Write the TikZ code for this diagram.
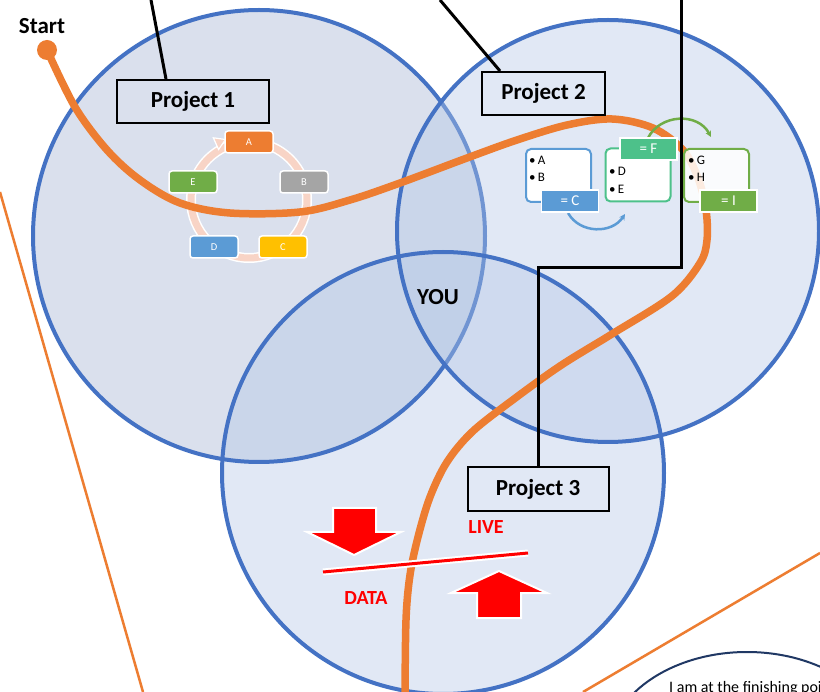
\documentclass[tikz,border=0pt]{standalone}
\usepackage{fontspec}
\setmainfont{Carlito}
\usetikzlibrary{arrows.meta,calc}
\definecolor{cblue}{HTML}{4472C4}
\definecolor{cfillA}{RGB}{218,224,237}
\definecolor{cfillB}{HTML}{B4C7E7}
\definecolor{corange}{HTML}{ED7D31}
\definecolor{cring}{RGB}{248,212,198}
\definecolor{cgray}{HTML}{A5A5A5}
\definecolor{cyellow}{HTML}{FFC000}
\definecolor{cmblue}{HTML}{5B9BD5}
\definecolor{cgreen}{HTML}{70AD47}
\definecolor{cteal}{HTML}{4DC18A}
\definecolor{cnavy}{HTML}{203864}
\definecolor{cred}{HTML}{FF0000}
\begin{document}
\begin{tikzpicture}[x=1pt,y=-1pt,
  vennline/.style={draw=cblue, line width=4pt},
  projbox/.style={draw=black, line width=2pt, inner sep=0pt, font=\bfseries\fontsize{23}{26}\selectfont},
  cyc/.style={rounded corners=3pt, draw=white, line width=1.5pt, minimum width=48pt, minimum height=22pt, text=white, inner sep=0pt, font=\fontsize{10.5}{11}\selectfont},
  itembox/.style={rounded corners=5pt, line width=2pt, fill=white, minimum width=65pt, minimum height=53pt, inner sep=0pt},
  tagbox/.style={draw=white, line width=1.5pt, text=white, minimum width=57pt, minimum height=22pt, inner sep=0pt, font=\fontsize{15}{16}\selectfont},
  itemtext/.style={anchor=west, inner sep=0pt, font=\fontsize{13}{14}\selectfont},
  redtext/.style={text=cred, inner sep=0pt, font=\bfseries\fontsize{20}{22}\selectfont},
  blackline/.style={draw=black, line width=3pt},
  orangepath/.style={draw=corange, line width=7.5pt, line cap=round},
  thinorange/.style={draw=corange, line width=2.5pt},
  redarrow/.style={fill=cred, draw=white, line width=2pt, line join=miter}
]
\useasboundingbox (0,0) rectangle (820,692);
\clip (0,0) rectangle (820,692);
\fill[white] (0,0) rectangle (820,692);

% thin orange lines
\coordinate (la) at (0,192);
\coordinate (lb) at (143,692);
\coordinate (lc) at (820,553);
\coordinate (ld) at (583,692);
\draw[thinorange] (la) -- (lb);
\draw[thinorange] (lc) -- (ld);

% Venn circles
\fill[cfillA] (259,236) circle (226);
\fill[cfillB, fill opacity=0.4] (443,473) circle (221);
\draw[vennline] (259,236) circle (226);
\fill[cfillB, fill opacity=0.4] (608,231) circle (211);
\draw[vennline] (608,231) circle (211);
\draw[vennline] (443,473) circle (221);

% cycle in project 1
\draw[white, line width=10pt] (249,200) circle (58);
\draw[cring, line width=7pt] (249,200) circle (58);
\filldraw[fill=cring, draw=white, line width=1.2pt, line join=miter] (225.5,139.5) -- (213.3,137.8) -- (218.6,149.5) -- cycle;
\node[cyc, fill=corange] (ca) at (249,142) {A};
\node[cyc, fill=cgray] (cb) at (304,182) {B};
\node[cyc, fill=cyellow] (cc) at (283,247) {C};
\node[cyc, fill=cmblue] (cd) at (214,247) {D};
\node[cyc, fill=cgreen] (ce) at (193,182) {E};

% orange path
\node[circle, fill=corange, minimum size=20pt, inner sep=0pt] (startdot) at (47,50) {};
\coordinate (pathend) at (405,700);
\draw[orangepath] plot[smooth, tension=0.55] coordinates {(startdot.center) (75,107) (107,150) (140,180) (180,203) (230,213) (300,212) (350,200) (400,183) (467,158) (517,140) (567,125) (612,119) (653,128) (683,150) (698,178) (706,210) (707,240) (700,263) (672,296) (612,334) (560,366) (510,402) (472,432) (447,462) (430,497) (418,537) (410,575) (406,620) (pathend)};
\node[inner sep=0pt, font=\bfseries\fontsize{23}{26}\selectfont] (start) at (42,26) {Start};

% project 2 process
\draw[cmblue, line width=2.5pt, -{Stealth[length=6pt,width=6pt]}] (568,213) .. controls (580,234) and (612,234) .. (625,214);
\draw[cgreen, line width=2.5pt, -{Stealth[length=6pt,width=6pt]}] (648,138) .. controls (660,114) and (698,112) .. (711,137);
\node[itembox, draw=cmblue] (box1) at (558.5,175.5) {};
\node[itembox, draw=cteal] (box2) at (638,175) {};
\node[itembox, draw=cgreen, fill opacity=0.85] (box3) at (716.5,175.5) {};
\node[itemtext] (ia) at (529,160) {•\,A};
\node[itemtext] (ib) at (529,177) {•\,B};
\node[itemtext] (id) at (609,171) {•\,D};
\node[itemtext] (ie) at (609,189) {•\,E};
\node[itemtext] (ig) at (688,160) {•\,G};
\node[itemtext] (ih) at (688,177) {•\,H};
\node[tagbox, fill=cmblue] (tc) at (570,201) {= C};
\node[tagbox, fill=cteal] (tf) at (648.5,149) {= F};
\node[tagbox, fill=cgreen] (ti) at (728.5,201) {= I};

% project boxes and leader lines
\node[projbox, minimum width=152pt, minimum height=43pt] (p1) at (193,101.5) {Project 1};
\node[projbox, minimum width=123pt, minimum height=43pt] (p2) at (543.5,93.5) {Project 2};
\node[projbox, minimum width=141pt, minimum height=44pt] (p3) at (538,489) {Project 3};
\coordinate (t1) at (151,0);
\coordinate (t2) at (440,0);
\coordinate (t3) at (681,0);
\draw[blackline] (t1) -- ([xshift=-27pt]p1.north);
\draw[blackline] (t2) -- ([xshift=-43.5pt]p2.north);
\draw[blackline] (t3) -- (681,268) -| (p3.north);

\node[inner sep=0pt, font=\bfseries\fontsize{23}{26}\selectfont] (you) at (438,297) {YOU};

% live data
\draw[white, line width=7pt] (323,572) -- (528,553);
\draw[cred, line width=3pt] (323,572) -- (528,553);
\filldraw[redarrow] (333,508) -- (376,508) -- (376,532) -- (401,532) -- (354,555) -- (307,532) -- (333,532) -- cycle;
\filldraw[redarrow] (499,571) -- (547,593) -- (521,593) -- (521,618) -- (477,618) -- (477,593) -- (451,593) -- cycle;
\node[redtext] (live) at (486,527) {LIVE};
\node[redtext] (data) at (366,598) {DATA};

% finishing ellipse
\draw[cnavy, line width=2pt] (747,752) ellipse [x radius=140, y radius=100];
\node[anchor=base west, inner sep=0pt, font=\fontsize{16}{18}\selectfont] (finish) at (669,692) {I am at the finishing point};
\end{tikzpicture}
\end{document}
